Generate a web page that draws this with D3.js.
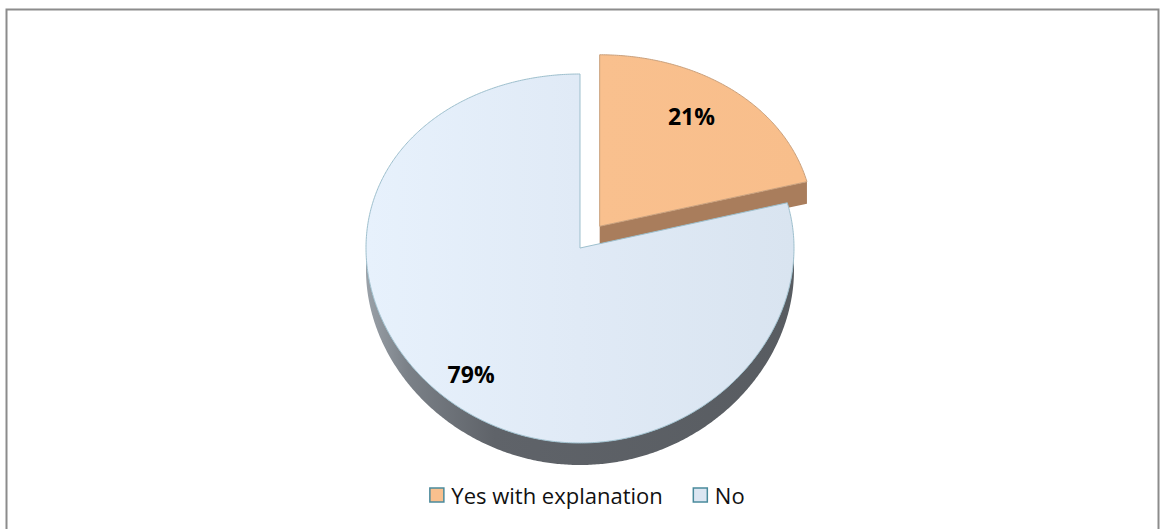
<!DOCTYPE html>
<html>
<head>
<meta charset="utf-8">
<script src="https://cdn.jsdelivr.net/npm/d3@7/dist/d3.min.js"></script>
<style>
  html, body { margin: 0; padding: 0; background: #fff; }
  svg { display: block; }
  text { font-family: "Open Sans", "Noto Sans", sans-serif; }
</style>
</head>
<body>
<svg id="chart" width="1160" height="529"></svg>
<script>
// Survey answers and their shares (percent)
const categories = ["Yes with explanation", "No"];
const shares = [21, 79];
const shareLabels = ["21%", "79%"];

const W = 1160, H = 529;
const svg = d3.select("#chart");

// Chart frame
svg.append("rect")
  .attr("x", 6.5).attr("y", 9.5)
  .attr("width", 1152).attr("height", 540)
  .attr("fill", "#fff").attr("stroke", "#8c8c8c").attr("stroke-width", 2);

// Tilted-disc projection: circle coords (u right, v away from viewer)
const cx = 580, cy = 248, rx = 214, ryA = 184.5, ryC = 10.5, depth = 22;
function proj(u, v, z) {
  return [cx + rx * u, cy - ryA * v + ryC * v * v + z];
}

const pie = d3.pie().sort(null).startAngle(0).endAngle(2 * Math.PI).value(d => d);
const arcs = pie(shares);
const explode = [0.15, 0];

const topFill = ["url(#gTop0)", "url(#gTop1)"];
const cutFill = ["#a97d5c", "#5c6166"];
const wallFill = ["#a97d5c", "url(#gWall)"];
const edge = ["#c9a07c", "#9dbfcd"];

const defs = svg.append("defs");
function lin(id, x1, x2, stops) {
  const g = defs.append("linearGradient").attr("id", id)
    .attr("gradientUnits", "userSpaceOnUse")
    .attr("x1", x1).attr("y1", 0).attr("x2", x2).attr("y2", 0);
  stops.forEach(s => g.append("stop").attr("offset", s[0]).attr("stop-color", s[1]));
}
lin("gTop0", 600, 800, [[0, "#f9c08e"], [1, "#f8be8b"]]);
lin("gTop1", 366, 793, [[0, "#e7f1fc"], [0.5, "#e0eaf6"], [1, "#d9e4f0"]]);
lin("gWall", 366, 793, [[0, "#9aa1a8"], [0.1, "#7a8087"], [0.3, "#5f6369"], [1, "#585c61"]]);

const line = d3.line();
const step = Math.PI / 360;

function slicePts(d, i) {
  const mid = (d.startAngle + d.endAngle) / 2;
  const ou = explode[i] * Math.sin(mid), ov = explode[i] * Math.cos(mid);
  const rim = (t, z) => proj(Math.sin(t) + ou, Math.cos(t) + ov, z);
  const ctr = z => proj(ou, ov, z);
  return { mid, ou, ov, rim, ctr };
}

function drawSlice(d, i) {
  const g = svg.append("g");
  const s = slicePts(d, i);
  const a0 = d.startAngle, a1 = d.endAngle;

  // front wall of the rim (angles between 90° and 270° face the viewer)
  const w0 = Math.max(a0, Math.PI / 2), w1 = Math.min(a1, 3 * Math.PI / 2);
  if (w1 > w0) {
    const top = [], bot = [];
    for (let t = w0; t <= w1 + 1e-9; t += step) { top.push(s.rim(t, 0)); bot.push(s.rim(t, depth)); }
    g.append("path").attr("d", line(top.concat(bot.reverse())) + "Z")
      .attr("fill", wallFill[i]).attr("stroke", "none");
  }

  // cut face along the end radius, visible when it faces the viewer
  if (a1 > 0 && a1 < Math.PI / 2 + 0.8) {
    const pts = [s.ctr(0), s.rim(a1, 0), s.rim(a1, depth), s.ctr(depth)];
    g.append("path").attr("d", line(pts) + "Z").attr("fill", cutFill[i]).attr("stroke", "none");
  }

  // top face
  const tp = [s.ctr(0)];
  for (let t = a0; t <= a1 + 1e-9; t += step) tp.push(s.rim(t, 0));
  tp.push(s.rim(a1, 0));
  g.append("path").attr("d", line(tp) + "Z")
    .attr("fill", topFill[i]).attr("stroke", edge[i]).attr("stroke-width", 1)
    .attr("stroke-linejoin", "round");
}

// back slice first, the large front slice over it
drawSlice(arcs[0], 0);
drawSlice(arcs[1], 1);

// value labels (radius along the slice bisector, small angular nudge)
const labelR = [0.76, 0.83];
const labelNudge = [-0.06, 0];
arcs.forEach((d, i) => {
  const s = slicePts(d, i);
  const a = s.mid + labelNudge[i];
  const p = proj(s.ou + labelR[i] * Math.sin(a), s.ov + labelR[i] * Math.cos(a), 0);
  svg.append("text")
    .attr("x", p[0]).attr("y", p[1])
    .attr("text-anchor", "middle").attr("dominant-baseline", "central")
    .attr("font-size", 23).attr("font-weight", 700).attr("fill", "#000")
    .text(shareLabels[i]);
});

// legend
const legendFill = ["#f9c08e", "#dce6f2"];
const lg = svg.append("g");
let x = 0;
categories.forEach((c, i) => {
  const it = lg.append("g");
  it.append("rect").attr("x", 0.5).attr("y", -7).attr("width", 14).attr("height", 14)
    .attr("fill", legendFill[i]).attr("stroke", "#4a8a9c").attr("stroke-width", 1.5);
  const t = it.append("text").attr("x", 22).attr("y", 0).attr("dominant-baseline", "central")
    .attr("font-size", 22).attr("fill", "#111").text(c);
  const w = 22 + t.node().getComputedTextLength();
  it.attr("transform", `translate(${x},0)`);
  x += w + 30;
});
const total = x - 30;
lg.attr("transform", `translate(${587 - total / 2},495)`);
</script>
</body>
</html>
